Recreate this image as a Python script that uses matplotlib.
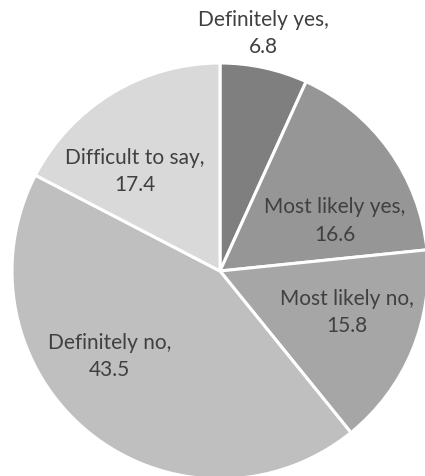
"""
Pie chart of survey answers with labels inside and above the wedges.
"""
import matplotlib.pyplot as plt

answers = ["Definitely yes", "Most likely yes", "Most likely no",
           "Definitely no", "Difficult to say"]
shares = [6.8, 16.6, 15.8, 43.5, 17.4]

colors = ["#7f7f7f", "#969696", "#a6a6a6", "#bfbfbf", "#d9d9d9"]
# label centres in units of the pie radius, relative to its centre
label_offsets = [(0.21, 1.14), (0.55, 0.24), (0.61, -0.20),
                 (-0.53, -0.41), (-0.41, 0.48)]

plt.rcParams["font.family"] = ["Lato", "DejaVu Sans"]

fig = plt.figure(figsize=(4.25, 4.76), dpi=100)
ax = fig.add_axes([0, 0, 1, 1])

cx, cy, radius = 220, 205, 208
ax.pie(shares, colors=colors, startangle=90, counterclock=False,
       center=(cx, cy), radius=radius,
       wedgeprops=dict(edgecolor="white", linewidth=2.2))

for name, value, (dx, dy) in zip(answers, shares, label_offsets):
    ax.text(cx + dx * radius, cy + dy * radius, f"{name},\n{value}",
            ha="center", va="center", fontsize=15, color="#404040",
            linespacing=1.45)

ax.set_xlim(0, 425)
ax.set_ylim(0, 476)
ax.set_aspect("equal")
ax.axis("off")

fig.savefig("out.png")
